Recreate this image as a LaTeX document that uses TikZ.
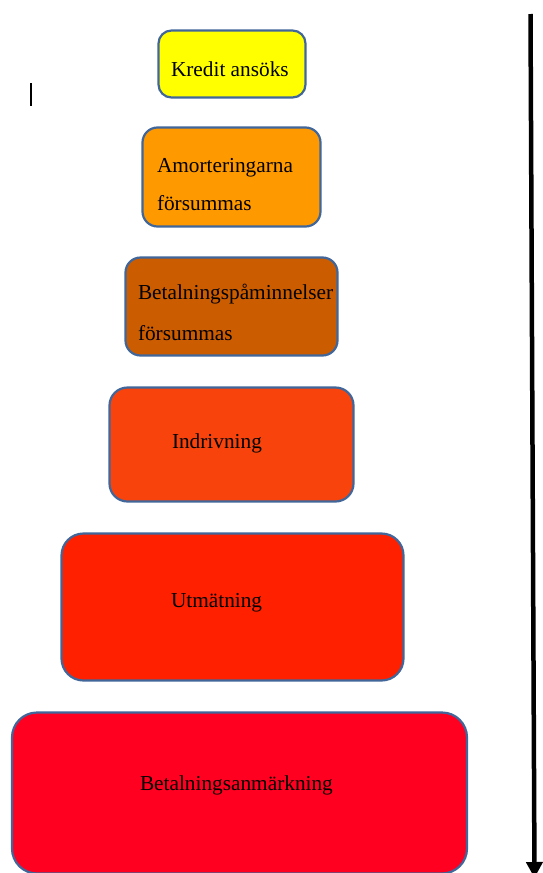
\documentclass[tikz,border=0pt]{standalone}
\usepackage{fontspec}
\setmainfont{Liberation Serif}
\usetikzlibrary{arrows.meta}
\definecolor{bordc}{HTML}{41669A}
\definecolor{c1}{HTML}{FFFF00}
\definecolor{c2}{HTML}{FF9900}
\definecolor{c3}{HTML}{CC5C00}
\definecolor{c4}{HTML}{F8440C}
\definecolor{c5}{HTML}{FF2000}
\definecolor{c6}{HTML}{FF0020}
\tikzset{
  stage/.style={draw=bordc, line width=2.2pt, rectangle, inner sep=0pt, outer sep=0pt},
  lbl/.style={inner sep=0pt, outer sep=0pt, font=\fontsize{21.3}{25}\selectfont, text=black},
}
\begin{document}
\begin{tikzpicture}[x=1pt,y=-1pt]
\useasboundingbox (0,0) rectangle (542,873);
% boxes
\node[stage, fill=c1, rounded corners=13pt, minimum width=147pt, minimum height=67pt] (b1) at (232,64) {};
\node[stage, fill=c2, rounded corners=15pt, minimum width=178pt, minimum height=99pt] (b2) at (231.5,177) {};
\node[stage, fill=c3, rounded corners=15pt, minimum width=212pt, minimum height=98pt] (b3) at (231.5,306.5) {};
\node[stage, fill=c4, rounded corners=18pt, minimum width=244pt, minimum height=114pt] (b4) at (231.5,444.5) {};
\node[stage, fill=c5, rounded corners=22pt, minimum width=342pt, minimum height=147pt] (b5) at (232.5,607) {};
\node[stage, fill=c6, rounded corners=25pt, minimum width=455pt, minimum height=161pt] (b6) at (239.5,793) {};
% labels
\node[lbl, anchor=base west] (t1) at (171,76) {Kredit ansöks};
\node[lbl, anchor=base west] (t2a) at (157,172) {Amorteringarna};
\node[lbl, anchor=base west] (t2b) at (157,210) {försummas};
\node[lbl, anchor=base west] (t3a) at (138,299) {Betalningspåminnelser};
\node[lbl, anchor=base west] (t3b) at (138,340) {försummas};
\node[lbl, anchor=base west] (t4) at (172,448) {Indrivning};
\node[lbl, anchor=base west] (t5) at (171,607) {Utmätning};
\node[lbl, anchor=base west] (t6) at (140,790) {Betalningsanmärkning};
% cursor mark
\draw[line width=1.2pt, black] (31,83) -- (31,106);
% time arrow
\coordinate (atop) at (530.5,14);
\coordinate (abot) at (534.5,878);
\draw[line width=4.5pt, black, -{Triangle[length=16pt,width=16pt]}] (atop) -- (abot);
\end{tikzpicture}
\end{document}
